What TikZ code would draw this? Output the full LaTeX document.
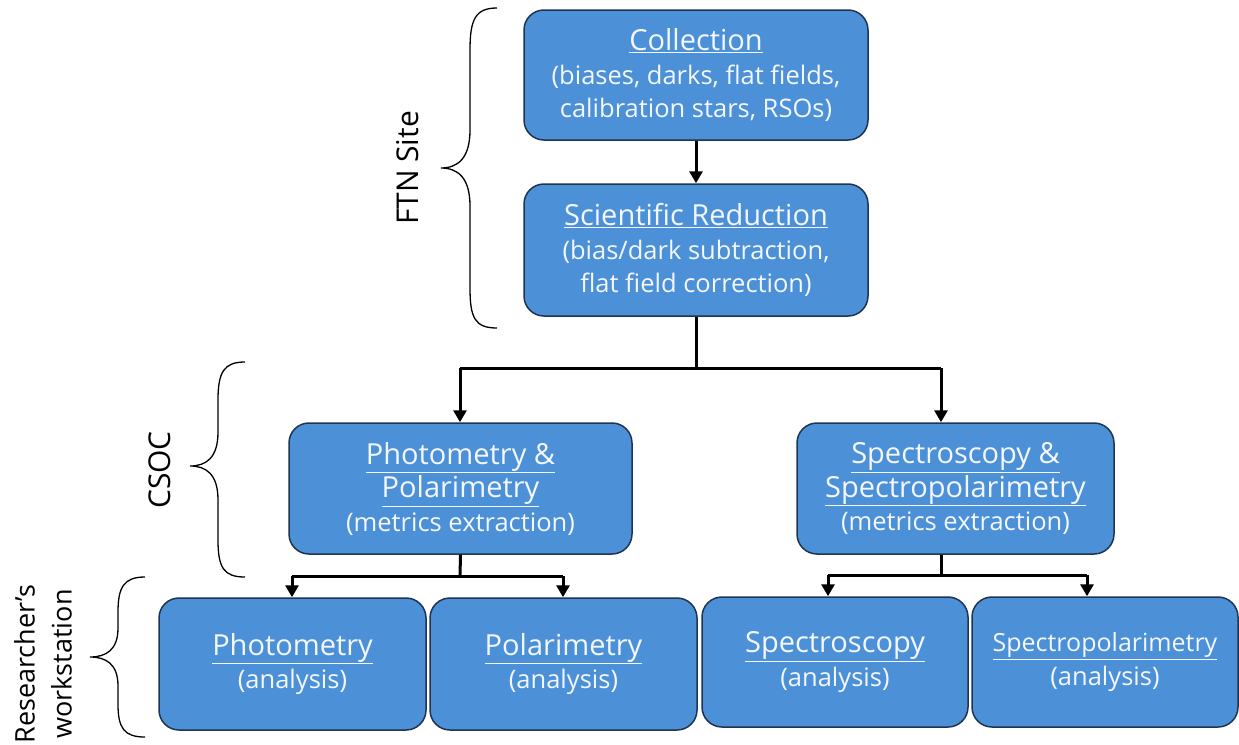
\documentclass[tikz,border=0pt]{standalone}
\usepackage{fontspec}
\setmainfont{Open Sans}
\usetikzlibrary{arrows.meta}
\definecolor{boxfill}{RGB}{76,145,215}
\definecolor{boxline}{RGB}{30,52,80}
\definecolor{boxtext}{RGB}{244,247,255}
\newcommand{\ttl}[1]{{\fontsize{29}{34}\selectfont\underline{#1}}}
\tikzset{
  box/.style={draw=boxline, line width=1.5pt, fill=boxfill, rounded corners=20pt,
    text=boxtext, align=center, inner sep=0pt,
    font=\fontsize{25.5}{33.5}\selectfont},
  conn/.style={line width=3pt, -{Triangle[length=12pt,width=13pt]}},
  seg/.style={line width=3pt},
  brace/.style={line width=1.3pt},
  side/.style={rotate=90, align=center, font=\fontsize{30}{37}\selectfont}
}
\begin{document}
\begin{tikzpicture}[x=1pt,y=-1pt]
\useasboundingbox (0,0) rectangle (1239,744);
\node[box, minimum width=344pt, minimum height=130pt] (coll) at (696,75)
  {\ttl{Collection}\\(biases, darks, flat fields,\\calibration stars, RSOs)};
\node[box, minimum width=344pt, minimum height=132pt] (sred) at (696,250)
  {\ttl{Scientific Reduction}\\(bias/dark subtraction,\\flat field correction)};
\node[box, minimum width=343pt, minimum height=131pt] (pp) at (460.5,488.5)
  {\ttl{Photometry \&}\\\ttl{Polarimetry}\\(metrics extraction)};
\node[box, minimum width=317pt, minimum height=131pt] (sp) at (955.5,488.5)
  {\ttl{Spectroscopy \&}\\\ttl{Spectropolarimetry}\\(metrics extraction)};
\node[box, minimum width=267pt, minimum height=132pt] (ph) at (292.5,664)
  {\ttl{Photometry}\\(analysis)};
\node[box, minimum width=267pt, minimum height=132pt] (po) at (563.5,664)
  {\ttl{Polarimetry}\\(analysis)};
\node[box, minimum width=266pt, minimum height=130pt] (sc) at (835,662)
  {\ttl{Spectroscopy}\\(analysis)};
\node[box, minimum width=266pt, minimum height=130pt] (spp) at (1105,662)
  {{\fontsize{25}{34}\selectfont\underline{Spectropolarimetry}}\\(analysis)};

% connectors
\draw[conn] (coll.south) -- (sred.north);
\coordinate (j1) at (696,368);
\coordinate (j1l) at (460,368);
\coordinate (j1r) at (941,368);
\draw[seg] (sred.south) -- (j1);
\draw[seg] (j1l) -- (j1r);
\draw[conn] (j1l) -- (j1l |- pp.north);
\draw[conn] (j1r) -- (j1r |- sp.north);

\coordinate (p0) at (460,576);
\coordinate (pl) at (292,576);
\coordinate (pr) at (563,576);
\draw[seg] (pp.south) -- (p0);
\draw[seg] (pl) -- (pr);
\draw[conn] (pl) -- (pl |- ph.north);
\draw[conn] (pr) -- (pr |- po.north);

\coordinate (s0) at (941,575);
\coordinate (sl) at (828,575);
\coordinate (sr) at (1087,575);
\draw[seg] (s0 |- sp.south) -- (s0);
\draw[seg] (sl) -- (sr);
\draw[conn] (sl) -- (sl |- sc.north);
\draw[conn] (sr) -- (sr |- spp.north);

% braces
\draw[brace] (497,8) .. controls (475,8) and (470,20) .. (470,50) -- (470,130)
  .. controls (470,158) and (458,168) .. (441,168)
  .. controls (458,168) and (470,178) .. (470,206) -- (470,288)
  .. controls (470,318) and (475,328) .. (497,328);
\draw[brace] (245,362) .. controls (224,362) and (218,372) .. (218,400) -- (218,432)
  .. controls (218,458) and (206,466) .. (190,466)
  .. controls (206,466) and (218,474) .. (218,500) -- (218,540)
  .. controls (218,568) and (224,577) .. (245,577);
\draw[brace] (145,577) .. controls (124,577) and (118,587) .. (118,612) -- (118,628)
  .. controls (118,650) and (106,657) .. (90,657)
  .. controls (106,657) and (118,664) .. (118,686) -- (118,704)
  .. controls (118,728) and (124,737) .. (145,737);

\node[side] (ftn) at (408,168) {FTN Site};
\node[side] (csoc) at (160,470) {CSOC};
\node[side, font=\fontsize{27}{37}\selectfont] (res) at (43,664) {Researcher’s\\workstation};
\end{tikzpicture}
\end{document}
